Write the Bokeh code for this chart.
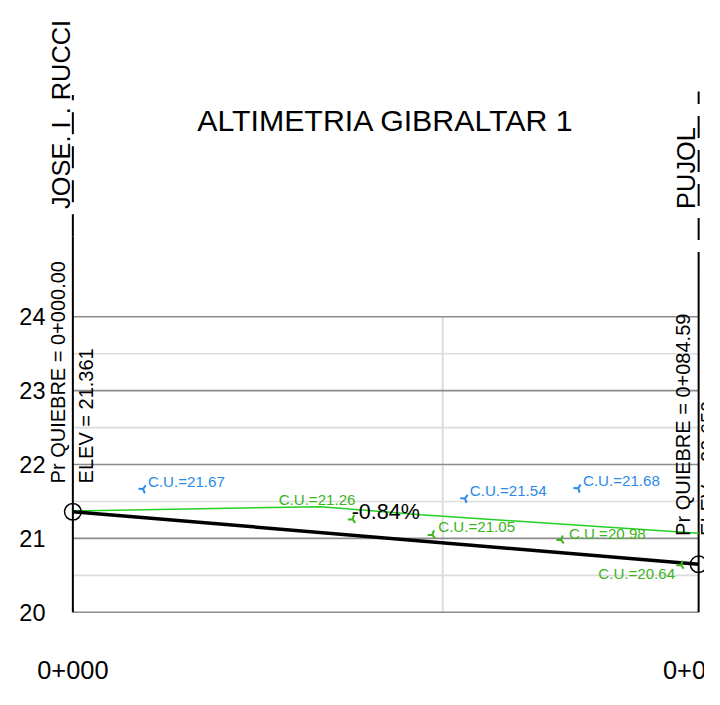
import math
from bokeh.plotting import figure
from bokeh.models import Range1d, ColumnDataSource
from bokeh.core.properties import value
from bokeh.embed import file_html
from bokeh.resources import INLINE

# ---------------- data ----------------
TITLE = "ALTIMETRIA GIBRALTAR 1"
START_NAME = "JOSE. I . RUCCI"
END_NAME = "PUJOL"

grade_stations = [0.0, 84.59]
grade_elevs = [21.361, 20.650]
grade_pct = -0.84

ground_stations = [0.0, 33.5, 47.0, 74.0, 84.59]
ground_elevs = [21.37, 21.43, 21.32, 21.14, 21.07]

cu_blue_stations = [9.5, 53.0, 68.3]
cu_blue_values = [21.67, 21.54, 21.68]

cu_green_stations = [37.8, 48.6, 66.0, 82.2]
cu_green_values = [21.26, 21.05, 20.98, 20.64]

y_major = [20, 21, 22, 23, 24]
y_minor = [20.5, 21.5, 22.5, 23.5]
y_tick_labels = ["20", "21", "22", "23", "24"]
x_grid = [50]
x_ticks = [0.0, 84.59]
x_tick_labels = ["0+000", "0+085"]

# ---------------- layout ----------------
W, H = 704, 689
SX, SY = W / 720.0, H / 705.0
FONT = value("Liberation Sans")


def fs(px):
    return f"{px * SY:.1f}px"


st0, st1 = grade_stations[0], grade_stations[-1]
px_m = 640.0 * SX / (st1 - st0)
px_u = 75.6 * SY
frame_left = 74 * SX
frame_base = 626 * SY
X0 = st0 - frame_left / px_m
X1 = X0 + W / px_m
Y0 = y_major[0] - (H - frame_base) / px_u
Y1 = y_major[0] + frame_base / px_u

p = figure(width=W, height=H, output_backend="svg", toolbar_location=None,
           x_range=Range1d(X0, X1), y_range=Range1d(Y0, Y1),
           x_axis_location=None, y_axis_location=None, min_border=0,
           background_fill_color="white", border_fill_color="white")
p.title.visible = False
p.grid.visible = False
p.outline_line_color = None

MAJOR_C = "#8c8c8c"
MINOR_C = "#dcdcdc"
BLUE = "#2a8ae6"
GREEN_LINE = "#22d022"
GREEN_TXT = "#3cb41e"

ymin, ymax = y_major[0], y_major[-1]

# grid
p.segment(x0=[st0] * len(y_minor), x1=[st1] * len(y_minor), y0=y_minor, y1=y_minor,
          line_color=MINOR_C, line_width=1.6)
p.segment(x0=x_grid, x1=x_grid, y0=[ymin] * len(x_grid), y1=[ymax] * len(x_grid),
          line_color=MINOR_C, line_width=2)
p.segment(x0=[st0] * len(y_major), x1=[st1] * len(y_major), y0=y_major, y1=y_major,
          line_color=MAJOR_C, line_width=1.6)

# boundary posts (solid part + dashed part)
post_solid_top = [25.09, 24.58]
post_dash_top = [27.0, 27.05]
p.segment(x0=[st0, st1], x1=[st0, st1], y0=[ymin, ymin], y1=post_solid_top,
          line_color="black", line_width=2)
p.segment(x0=[st0, st1], x1=[st0, st1], y0=post_solid_top, y1=post_dash_top,
          line_color="black", line_width=2, line_dash="22 12")

# ground line
p.line(ground_stations, ground_elevs, line_color=GREEN_LINE, line_width=1.5)
# grade line
p.line(grade_stations, grade_elevs, line_color="black", line_width=3.5)
p.scatter(grade_stations, grade_elevs, marker="circle", size=17 * SY, fill_color=None,
          line_color="black", line_width=1.5)

# C.U. markers
p.scatter(cu_blue_stations, cu_blue_values, marker="y", size=9, angle=math.pi * 0.8,
          line_color=BLUE, line_width=2)
p.scatter(cu_green_stations, cu_green_values, marker="y", size=9, angle=math.pi * 0.2,
          line_color=GREEN_TXT, line_width=2)

blue_src = ColumnDataSource(dict(x=cu_blue_stations, y=cu_blue_values,
                                 t=[f"C.U.={v:.2f}" for v in cu_blue_values]))
p.text("x", "y", text="t", source=blue_src, x_offset=5 * SX, y_offset=-8 * SY,
       text_align="left", text_baseline="middle", text_font=FONT,
       text_font_size=fs(15.5), text_color=BLUE)

g_xoff = [3 * SX, 6 * SX, 8 * SX, -6 * SX]
g_yoff = [-20 * SY, -8 * SY, -7 * SY, 9 * SY]
g_align = ["right", "left", "left", "right"]
green_src = ColumnDataSource(dict(x=cu_green_stations, y=cu_green_values,
                                  t=[f"C.U.={v:.2f}" for v in cu_green_values],
                                  xo=g_xoff, yo=g_yoff, al=g_align))
p.text("x", "y", text="t", source=green_src, x_offset="xo", y_offset="yo",
       text_align="al", text_baseline="middle", text_font=FONT,
       text_font_size=fs(15.5), text_color=GREEN_TXT)

# grade label
mid_s = (st0 + st1) / 2
mid_e = (grade_elevs[0] + grade_elevs[-1]) / 2
p.text([mid_s], [mid_e], text=[f"{grade_pct:.2f}%"], y_offset=-27 * SY,
       text_align="center", text_baseline="middle", text_font=FONT,
       text_font_size=fs(22), text_color="black")

# tick labels
p.text([st0] * len(y_major), y_major, text=y_tick_labels, x_offset=-28 * SX,
       text_align="right", text_baseline="middle", text_font=FONT,
       text_font_size=fs(24), text_color="black")
p.text(x_ticks, [ymin] * len(x_ticks), text=x_tick_labels, y_offset=59 * SY,
       text_align="center", text_baseline="middle", text_font=FONT,
       text_font_size=fs(26), text_color="black")

# title
p.text([mid_s], [26.65], text=[TITLE], text_align="center", text_baseline="middle",
       text_font=FONT, text_font_size=fs(31), text_color="black")

# street names (vertical), both anchored at the same elevation
name_elev = 25.46
p.text([st0, st1], [name_elev, name_elev], text=[START_NAME, END_NAME],
       angle=math.pi / 2, x_offset=[-12 * SX, -13 * SX],
       text_align="left", text_baseline="middle", text_font=FONT,
       text_font_size=fs(26), text_color="black")

# break-point labels (vertical)
brk_x = [st0, st0, st1, st1]
brk_y = [grade_elevs[0], grade_elevs[0], grade_elevs[-1], grade_elevs[-1]]
brk_t = [f"Pr QUIEBRE = 0+{st0:06.2f}", f"ELEV =  {grade_elevs[0]:.3f}",
         f"Pr QUIEBRE = 0+{st1:06.2f}", f"ELEV =  {grade_elevs[-1]:.3f}"]
brk_xo = [-15 * SX, 13 * SX, -16 * SX, 10 * SX]
brk_src = ColumnDataSource(dict(x=brk_x, y=brk_y, t=brk_t, xo=brk_xo))
p.text("x", "y", text="t", source=brk_src, angle=math.pi / 2, x_offset="xo",
       y_offset=-29 * SY, text_align="left", text_baseline="middle",
       text_font=FONT, text_font_size=fs(20.5), text_color="black")

open("out.html", "w").write(file_html(p, INLINE))
